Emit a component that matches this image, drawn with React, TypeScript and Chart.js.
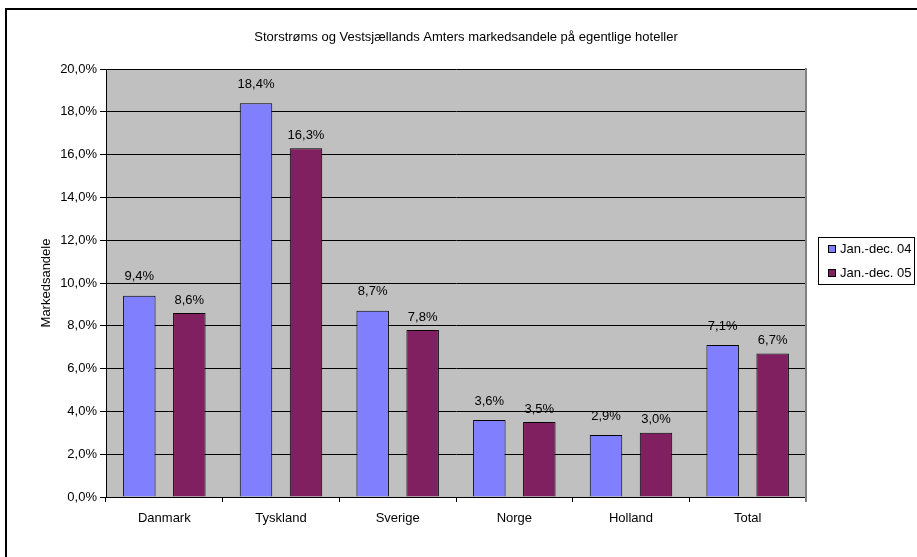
import React, { useEffect, useRef } from "react";
import { Chart, registerables } from "chart.js";

Chart.register(...registerables);

const title = "Storstrøms og Vestsjællands Amters markedsandele på egentlige hoteller";
const yAxisTitle = "Markedsandele";
const categories = ["Danmark", "Tyskland", "Sverige", "Norge", "Holland", "Total"];
const seriesNames = ["Jan.-dec. 04", "Jan.-dec. 05"];
const values04 = [9.4, 18.4, 8.7, 3.6, 2.9, 7.1];
const values05 = [8.6, 16.3, 7.8, 3.5, 3.0, 6.7];
const colors = ["#8080FF", "#802060"];

const FONT = "'Liberation Sans', Arial, sans-serif";
const fmt = (v: number) => v.toFixed(1).replace(".", ",") + "%";

export default function App() {
  const ref = useRef<HTMLCanvasElement | null>(null);

  useEffect(() => {
    if (!ref.current) return;
    const labelGap = [19, 13];
    const decorPlugin = {
      id: "decor",
      beforeDraw(chart: any) {
        const { ctx, chartArea: a } = chart;
        ctx.save();
        ctx.fillStyle = "#FFFFFF";
        ctx.fillRect(0, 0, chart.width, chart.height);
        ctx.fillStyle = "#C0C0C0";
        ctx.fillRect(a.left, a.top, a.right - a.left, a.bottom - a.top);
        ctx.restore();
      },
      afterDatasetsDraw(chart: any) {
        const { ctx, chartArea: a } = chart;
        ctx.save();
        // right plot border
        ctx.strokeStyle = "#808080";
        ctx.lineWidth = 2;
        ctx.beginPath();
        ctx.moveTo(a.right, a.top - 1);
        ctx.lineTo(a.right, a.bottom + 5);
        ctx.stroke();
        // data labels
        ctx.fillStyle = "#000";
        ctx.font = `13px ${FONT}`;
        ctx.textAlign = "center";
        ctx.textBaseline = "middle";
        chart.data.datasets.forEach((ds: any, di: number) => {
          const meta = chart.getDatasetMeta(di);
          meta.data.forEach((bar: any, i: number) => {
            ctx.fillText(fmt(ds.data[i]), bar.x, bar.y - labelGap[di]);
          });
        });
        // title
        ctx.fillText(title, 466, 37);
        // y-axis title
        ctx.save();
        ctx.translate(46, 283);
        ctx.rotate(-Math.PI / 2);
        ctx.fillText(yAxisTitle, 0, 0);
        ctx.restore();
        // legend
        ctx.fillStyle = "#FFFFFF";
        ctx.fillRect(818.5, 237.5, 96, 47);
        ctx.strokeStyle = "#000";
        ctx.lineWidth = 1;
        ctx.strokeRect(818.5, 237.5, 96, 47);
        seriesNames.forEach((name, i) => {
          const cy = 249 + i * 24;
          ctx.fillStyle = colors[i];
          ctx.fillRect(828.5, cy - 3.5, 7, 7);
          ctx.strokeStyle = "#000";
          ctx.strokeRect(828.5, cy - 3.5, 7, 7);
          ctx.fillStyle = "#000";
          ctx.textAlign = "left";
          ctx.fillText(name, 840, cy);
        });
        // outer border
        ctx.strokeStyle = "#000";
        ctx.lineWidth = 2;
        ctx.strokeRect(6, 9, chart.width + 20, chart.height + 20);
        ctx.restore();
      },
    };

    const chart = new Chart(ref.current, {
      type: "bar",
      data: {
        labels: categories,
        datasets: [
          {
            label: seriesNames[0],
            data: values04,
            backgroundColor: colors[0],
            borderColor: "#000",
            borderWidth: 1,
          },
          {
            label: seriesNames[1],
            data: values05,
            backgroundColor: colors[1],
            borderColor: "#000",
            borderWidth: 1,
          },
        ],
      },
      options: {
        animation: false,
        responsive: false,
        maintainAspectRatio: false,
        datasets: { bar: { categoryPercentage: 0.857, barPercentage: 0.65 } },
        layout: { padding: { top: 69, right: 111, bottom: 0, left: 0 } },
        plugins: {
          legend: { display: false },
          title: { display: false },
          tooltip: { enabled: false },
        },
        scales: {
          x: {
            grid: {
              display: true,
              drawOnChartArea: false,
              drawTicks: true,
              tickLength: 5,
              color: "#000",
              offset: true,
            },
            border: { color: "#000", width: 1 },
            ticks: {
              color: "#000",
              font: { family: FONT, size: 13 },
              padding: 9,
            },
            afterFit: (s: any) => {
              s.height = 60;
            },
          },
          y: {
            min: 0,
            max: 20,
            ticks: {
              stepSize: 2,
              color: "#000",
              font: { family: FONT, size: 13 },
              padding: 3,
              callback: (v: any) => fmt(Number(v)),
            },
            grid: { color: "#000", tickLength: 6, lineWidth: 1 },
            border: { color: "#000", width: 1 },
            afterFit: (s: any) => {
              s.width = 106;
            },
          },
        },
      },
      plugins: [decorPlugin],
    });
    return () => chart.destroy();
  }, []);

  return (
    <div style={{ position: "absolute", left: 0, top: 0, width: 917, height: 557 }}>
      <canvas ref={ref} width={917} height={557} style={{ display: "block" }} />
    </div>
  );
}
